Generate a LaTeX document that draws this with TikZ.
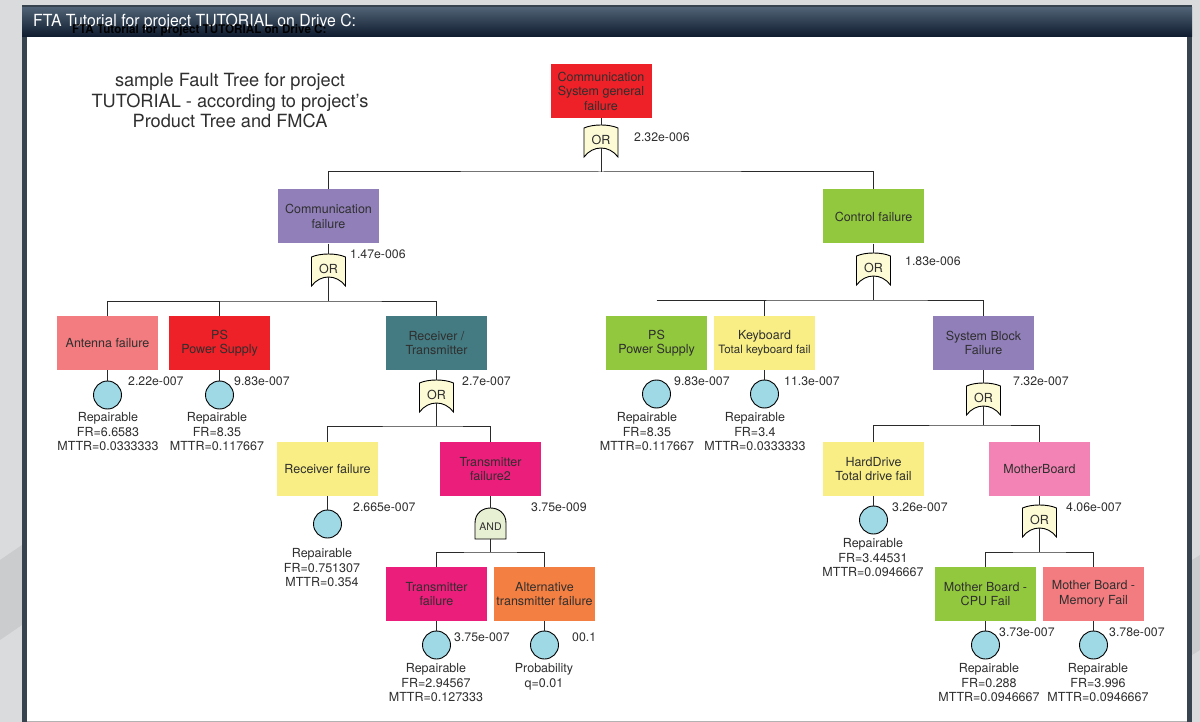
\documentclass[tikz,border=0pt]{standalone}
\usepackage{graphicx}
\usepackage{fontspec}
\setmainfont{TeX Gyre Heros}

\definecolor{pagegray}{HTML}{DADBDD}
\definecolor{pageshade}{HTML}{CBCCCE}
\definecolor{framecol}{HTML}{37434E}
\definecolor{bartop}{HTML}{4E6073}
\definecolor{barbot}{HTML}{0E1A2D}
\definecolor{txt}{HTML}{2F2F2F}
\definecolor{wirecol}{HTML}{2A2A2A}
\definecolor{basicblue}{HTML}{A0D9E6}
\definecolor{orfill}{HTML}{FDFAD6}
\definecolor{andfill}{HTML}{E7F0D3}
\definecolor{evred}{HTML}{ED2127}
\definecolor{evpurple}{HTML}{917FBA}
\definecolor{evgreen}{HTML}{92C83E}
\definecolor{evsalmon}{HTML}{F27C7F}
\definecolor{evteal}{HTML}{447B82}
\definecolor{evyellow}{HTML}{F8EE85}
\definecolor{evmagenta}{HTML}{EC1E7B}
\definecolor{evorange}{HTML}{F47F42}
\definecolor{evpink}{HTML}{F283B4}

\newcommand{\boxfont}{\fontsize{12.5}{14.5}\selectfont}
\newcommand{\probfont}{\fontsize{12.3}{14}\selectfont}

\begin{document}
\begin{tikzpicture}[x=1pt, y=-1pt,
    event/.style={minimum width=101pt, minimum height=54pt, inner sep=0pt, align=center, text=txt, font=\boxfont},
    basic/.style={circle, draw=black, line width=0.9pt, fill=basicblue, minimum size=28pt, inner sep=0pt},
    prob/.style={anchor=west, inner sep=0pt, text=txt, font=\probfont},
    info/.style={anchor=north, inner sep=0pt, align=center, text=txt, font=\boxfont},
    wire/.style={draw=wirecol, line width=1pt},
    orgate/.pic={
        \draw[line width=0.9pt, fill=orfill] (-17,-12) .. controls (-8,-16) and (8,-16) .. (17,-12)
            -- (17,17) .. controls (8,5) and (-8,5) .. (-17,17) -- cycle;
        \node[text=txt, font=\boxfont, inner sep=0pt] (-t) at (0,0) {OR};
        \coordinate (-in) at (0,-15);
        \coordinate (-out) at (0,8);
    },
    andgate/.pic={
        \draw[line width=0.9pt, fill=andfill] (-15.5,12) -- (-15.5,-4) .. controls (-15.5,-24) and (15.5,-24) .. (15.5,-4)
            -- (15.5,12) -- cycle;
        \node[text=txt, font=\fontsize{10.5}{12}\selectfont, inner sep=0pt] (-t) at (0,0) {AND};
        \coordinate (-in) at (0,-19);
        \coordinate (-out) at (0,12);
    }]
    \useasboundingbox (0,0) rectangle (1200,722);

    % window
    \fill[pagegray] (0,0) rectangle (1200,722);
    \fill[pageshade] (0,560) -- (22,545) -- (22,625) -- (0,640) -- cycle;
    \fill[pageshade] (1192,560) -- (1200,555) -- (1200,650) -- (1192,655) -- cycle;
    \fill[framecol] (22,5) rectangle (1192,722);
    \shade[top color=bartop, bottom color=barbot] (22,8) rectangle (1192,37);
    \fill[white] (27,37) rectangle (1187,722);
    \draw[gray!60, line width=1pt] (27,721.5) -- (1187,721.5);
    \node[anchor=base west, inner sep=0pt, text=white, font=\fontsize{16.7}{18}\selectfont] (title) at (33,27)
        {\scalebox{0.945}[1]{FTA Tutorial for project TUTORIAL on Drive C:}};
    \node[anchor=base west, inner sep=0pt, text=black, font=\bfseries\fontsize{12}{13}\selectfont] (title2) at (72,33.5)
        {\scalebox{0.97}[1]{FTA Tutorial for project TUTORIAL on Drive C:}};

    \node[align=center, inner sep=0pt, text=txt, font=\fontsize{18.2}{20.5}\selectfont] (note) at (230,101)
        {sample Fault Tree for project\\TUTORIAL - according to project's\\Product Tree and FMCA};

    % top
    \node[event, fill=evred] (top) at (601,91) {Communication\\System general\\failure};
    \pic (g0) at (601,140) {orgate};
    \node[prob] (g0p) at (634,137) {2.32e-006};
    \coordinate (b0) at (601,172);
    \node[event, fill=evpurple] (comm) at (328.5,216.5) {Communication\\failure};
    \node[event, fill=evgreen] (ctrl) at (873.5,216.5) {Control failure};

    % communication
    \pic (g1) at (328.5,269) {orgate};
    \node[prob] (g1p) at (350,254) {1.47e-006};
    \coordinate (b1) at (328.5,301);
    \node[event, fill=evsalmon] (ant) at (107.5,343) {Antenna failure};
    \node[event, fill=evred] (psl) at (219.5,343) {PS\\Power Supply};
    \node[event, fill=evteal] (rt) at (436.5,343) {Receiver /\\Transmitter};
    \node[basic] (antb) at (107.5,395) {};
    \node[prob] (antp) at (128,381) {2.22e-007};
    \node[info] (anti) at (108,412.5) {Repairable\\FR=6.6583\\MTTR=0.0333333};
    \node[basic] (pslb) at (219.5,395) {};
    \node[prob] (pslp) at (234,381) {9.83e-007};
    \node[info] (psli) at (217,412.5) {Repairable\\FR=8.35\\MTTR=0.117667};
    \pic (g3) at (436.5,395) {orgate};
    \node[prob] (g3p) at (462,381) {2.7e-007};
    \coordinate (b3) at (436.5,426);
    \node[event, fill=evyellow] (rcv) at (327.5,469) {Receiver failure};
    \node[event, fill=evmagenta] (tfb) at (490.5,469) {Transmitter\\failure2};
    \node[basic] (rcvb) at (327.5,524) {};
    \node[prob] (rcvp) at (353,507) {2.665e-007};
    \node[info] (rcvi) at (322,548.5) {Repairable\\FR=0.751307\\MTTR=0.354};
    \pic (g4) at (490.5,527) {andgate};
    \node[prob] (g4p) at (531,507) {3.75e-009};
    \coordinate (b4) at (490.5,552);
    \node[event, fill=evmagenta] (tf) at (436.5,594) {Transmitter\\failure};
    \node[event, fill=evorange] (alt) at (544.5,594) {Alternative\\transmitter failure};
    \node[basic] (tfbb) at (436.5,645) {};
    \node[prob] (tfp) at (454,637) {3.75e-007};
    \node[info] (tfi) at (436,663.5) {Repairable\\FR=2.94567\\MTTR=0.127333};
    \node[basic] (altb) at (544.5,645) {};
    \node[prob] (altp) at (572,637) {00.1};
    \node[info] (alti) at (544,663.5) {Probability\\q=0.01};

    % control
    \pic (g2) at (873.5,268) {orgate};
    \node[prob] (g2p) at (905,261) {1.83e-006};
    \coordinate (b2) at (873.5,300);
    \node[event, fill=evgreen] (psr) at (656.5,343) {PS\\Power Supply};
    \node[event, fill=evyellow] (kb) at (764.5,343) {Keyboard\\{\fontsize{11.5}{13}\selectfont Total keyboard fail}};
    \node[event, fill=evpurple] (sbf) at (983.5,343) {System Block\\Failure};
    \node[basic] (psrb) at (656.5,394) {};
    \node[prob] (psrp) at (674,381) {9.83e-007};
    \node[info] (psri) at (647,412.5) {Repairable\\FR=8.35\\MTTR=0.117667};
    \node[basic] (kbb) at (764.5,394) {};
    \node[prob] (kbp) at (784,381) {11.3e-007};
    \node[info] (kbi) at (755,412.5) {Repairable\\FR=3.4\\MTTR=0.0333333};
    \pic (g5) at (983.5,398) {orgate};
    \node[prob] (g5p) at (1013,381) {7.32e-007};
    \coordinate (b5) at (983.5,425);
    \node[event, fill=evyellow] (hd) at (873.5,469) {HardDrive\\Total drive fail};
    \node[event, fill=evpink] (mb) at (1039.5,469) {MotherBoard};
    \node[basic] (hdb) at (873.5,520) {};
    \node[prob] (hdp) at (892,507) {3.26e-007};
    \node[info] (hdi) at (873,538.5) {Repairable\\FR=3.44531\\MTTR=0.0946667};
    \pic (g6) at (1039.5,520) {orgate};
    \node[prob] (g6p) at (1066,507) {4.06e-007};
    \coordinate (b6) at (1039.5,552);
    \node[event, fill=evgreen] (cpu) at (985.5,594) {Mother Board -\\CPU Fail};
    \node[event, fill=evsalmon] (mem) at (1093.5,594) {Mother Board -\\Memory Fail};
    \node[basic] (cpub) at (985.5,645) {};
    \node[prob] (cpup) at (999,632) {3.73e-007};
    \node[info] (cpui) at (989,663.5) {Repairable\\FR=0.288\\MTTR=0.0946667};
    \node[basic] (memb) at (1093.5,645) {};
    \node[prob] (memp) at (1109,632) {3.78e-007};
    \node[info] (memi) at (1098,663.5) {Repairable\\FR=3.996\\MTTR=0.0946667};

    % wires
    \draw[wire] (top.south) -- (g0-in);
    \draw[wire] (g0-out) -- (b0);
    \draw[wire] (comm.north) |- (b0) -| (ctrl.north);
    \draw[wire] (comm.south) -- (g1-in);
    \draw[wire] (g1-out) -- (b1);
    \draw[wire] (ant.north) |- (b1) -| (rt.north);
    \draw[wire] (psl.north) -- (psl.north |- b1);
    \draw[wire] (ant.south) -- (antb.north);
    \draw[wire] (psl.south) -- (pslb.north);
    \draw[wire] (rt.south) -- (g3-in);
    \draw[wire] (g3-out) -- (b3);
    \draw[wire] (rcv.north) |- (b3) -| (tfb.north);
    \draw[wire] (rcv.south) -- (rcvb.north);
    \draw[wire] (tfb.south) -- (g4-in);
    \draw[wire] (g4-out) -- (b4);
    \draw[wire] (tf.north) |- (b4) -| (alt.north);
    \draw[wire] (tf.south) -- (tfbb.north);
    \draw[wire] (alt.south) -- (altb.north);
    \draw[wire] (ctrl.south) -- (g2-in);
    \draw[wire] (g2-out) -- (b2);
    \draw[wire] (b2 -| psr.north) -- (b2) -| (sbf.north);
    \draw[wire] (kb.north) -- (kb.north |- b2);
    \draw[wire] (kb.south) -- (kbb.north);
    \draw[wire] (sbf.south) -- (g5-in);
    \draw[wire] (g5-out) -- (b5);
    \draw[wire] (hd.north) |- (b5) -| (mb.north);
    \draw[wire] (hd.south) -- (hdb.north);
    \draw[wire] (mb.south) -- (g6-in);
    \draw[wire] (g6-out) -- (b6);
    \draw[wire] (cpu.north) |- (b6) -| (mem.north);
    \draw[wire] (cpu.south) -- (cpub.north);
    \draw[wire] (mem.south) -- (memb.north);
\end{tikzpicture}
\end{document}
